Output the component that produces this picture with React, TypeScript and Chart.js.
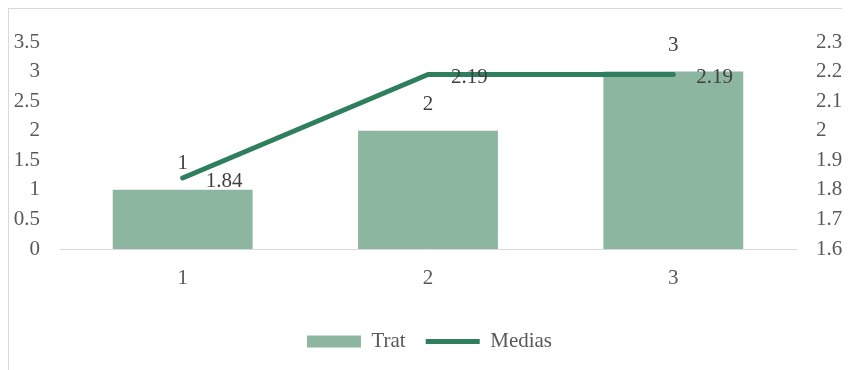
import React, { useEffect, useRef } from "react";
import { Chart, registerables } from "chart.js";

Chart.register(...registerables);

const categories = ["1", "2", "3"];
const tratValues = [1, 2, 3];
const mediasValues = [1.84, 2.19, 2.19];
const leftTickRange = { min: 0, max: 3.5, step: 0.5 };
const rightTickRange = { min: 1.6, max: 2.3, step: 0.1 };

const FONT = "'Liberation Serif', 'Times New Roman', serif";
const BAR_COLOR = "#8DB6A0";
const LINE_COLOR = "#2F7F5E";
const TICK_COLOR = "#595959";
const LABEL_COLOR = "#404040";

const fmt = (v: number) => String(Math.round(v * 100) / 100);

const valueLabels = {
  id: "valueLabels",
  afterDatasetsDraw(chart: any) {
    const ctx = chart.ctx;
    ctx.save();
    ctx.font = `21px ${FONT}`;
    ctx.fillStyle = LABEL_COLOR;
    ctx.textBaseline = "middle";
    chart.data.datasets.forEach((ds: any, i: number) => {
      const meta = chart.getDatasetMeta(i);
      meta.data.forEach((el: any, j: number) => {
        const v = ds.data[j];
        if (ds.type === "bar") {
          ctx.textAlign = "center";
          ctx.fillText(fmt(v), el.x, el.y - 26);
        } else {
          ctx.textAlign = "left";
          ctx.fillText(v.toFixed(2), el.x + 23, el.y + 3);
        }
      });
    });
    ctx.restore();
  },
};

export default function App() {
  const ref = useRef<HTMLCanvasElement>(null);
  useEffect(() => {
    if (!ref.current) return;
    const chart = new Chart(ref.current, {
      type: "bar",
      data: {
        labels: categories,
        datasets: [
          {
            type: "line",
            label: "Medias",
            data: mediasValues,
            yAxisID: "y1",
            borderColor: LINE_COLOR,
            backgroundColor: LINE_COLOR,
            borderWidth: 5,
            borderCapStyle: "round",
            borderJoinStyle: "round",
            pointRadius: 0,
            pointHoverRadius: 0,
            pointStyle: "line",
            tension: 0,
            order: 0,
          } as any,
          {
            type: "bar",
            label: "Trat",
            data: tratValues,
            yAxisID: "y",
            backgroundColor: BAR_COLOR,
            borderWidth: 0,
            barPercentage: 0.57,
            categoryPercentage: 1,
            pointStyle: "rect",
            order: 1,
          } as any,
        ],
      },
      options: {
        animation: false,
        responsive: false,
        maintainAspectRatio: false,
        layout: { padding: { top: 33, bottom: 8, left: 0, right: 0 } },
        plugins: {
          tooltip: { enabled: false },
          legend: {
            position: "bottom",
            reverse: true,
            labels: {
              usePointStyle: true,
              pointStyleWidth: 54,
              boxWidth: 54,
              boxHeight: 12,
              padding: 20,
              color: TICK_COLOR,
              font: { family: FONT, size: 21 },
            },
          },
        },
        scales: {
          x: {
            grid: { display: false, drawTicks: false },
            border: { display: true, color: "#D9D9D9", width: 1 },
            ticks: { color: TICK_COLOR, font: { family: FONT, size: 21 }, padding: 17 },
            afterFit: (s: any) => {
              s.height = 62;
            },
          },
          y: {
            position: "left",
            min: leftTickRange.min,
            max: leftTickRange.max,
            grid: { display: false, drawTicks: false },
            border: { display: false },
            ticks: {
              stepSize: leftTickRange.step,
              color: TICK_COLOR,
              font: { family: FONT, size: 21 },
              padding: 20,
              callback: (v: any) => fmt(Number(v)),
            },
            afterFit: (s: any) => {
              s.width = 51;
            },
          },
          y1: {
            position: "right",
            min: rightTickRange.min,
            max: rightTickRange.max,
            grid: { display: false, drawTicks: false },
            border: { display: false },
            ticks: {
              stepSize: rightTickRange.step,
              color: TICK_COLOR,
              font: { family: FONT, size: 21 },
              padding: 20,
              callback: (v: any) => fmt(Number(v)),
            },
            afterFit: (s: any) => {
              s.width = 54;
            },
          },
        },
      },
      plugins: [valueLabels],
    });
    return () => chart.destroy();
  }, []);

  return (
    <div
      style={{
        width: 842,
        height: 362,
        borderLeft: "1px solid #D9D9D9",
        borderTop: "1px solid #D9D9D9",
        boxSizing: "border-box",
        overflow: "hidden",
      }}
    >
      <canvas ref={ref} width={841} height={361} style={{ display: "block", width: 841, height: 361 }} />
    </div>
  );
}
